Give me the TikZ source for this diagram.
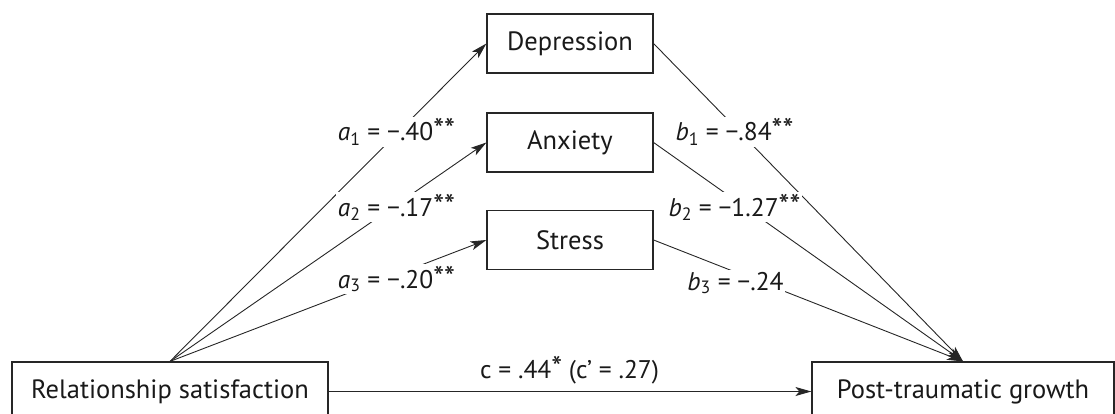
\documentclass[tikz,border=0pt]{standalone}
\usepackage{fontspec}
\setmainfont{PT Sans}
\usetikzlibrary{arrows.meta}
\newcommand{\signif}[1]{{\fontsize{31}{30}\selectfont #1}}

\begin{document}
\begin{tikzpicture}[x=1pt,y=-1pt,
  varbox/.style={draw=black!85,line width=1.2pt,inner sep=0pt,minimum height=59pt,text=black!90,font=\fontsize{26.5}{30}\selectfont},
  link/.style={draw=black!85,line width=0.9pt},
  arr/.style={link,-{Stealth[length=16pt,width=9pt,inset=4pt]}},
  coef/.style={fill=white,inner sep=1.5pt,anchor=base,text=black!90,font=\fontsize{25.5}{30}\selectfont}]
  \useasboundingbox (0,0) rectangle (1115,414);

  %boxes
  \coordinate (RS)  at (170,391.5);
  \coordinate (PTG) at (963,391.5);
  \coordinate (DEP) at (570,43.5);
  \coordinate (ANX) at (570,142.5);
  \coordinate (STR) at (570,240);
  \node[varbox,minimum width=316pt] (rs)  at (RS)  {Relationship satisfaction};
  \node[varbox,minimum width=302pt] (ptg) at (PTG) {Post-traumatic growth};
  \node[varbox,minimum width=166pt] (dep) at (DEP) {Depression};
  \node[varbox,minimum width=166pt] (anx) at (ANX) {Anxiety};
  \node[varbox,minimum width=166pt] (str) at (STR) {Stress};

  %a paths
  \draw[arr] (rs.north) -- (dep.west);
  \draw[arr] (rs.north) -- (anx.west);
  \draw[arr] (rs.north) -- (str.west);

  %b paths
  \draw[arr] (dep.east) -- (ptg.north);
  \draw[arr] (anx.east) -- (ptg.north);
  \draw[arr] (str.east) -- (ptg.north);

  %c path
  \draw[arr] (rs.east) -- (ptg.west);

  %coefficients
  \node[coef] (ca1) at (396.5,141) {\textit{a}\textsubscript{1} = −.40\signif{**}};
  \node[coef] (ca2) at (396.5,216) {\textit{a}\textsubscript{2} = −.17\signif{**}};
  \node[coef] (ca3) at (396.5,288) {\textit{a}\textsubscript{3} = −.20\signif{**}};
  \node[coef] (cb1) at (734.5,141) {\textit{b}\textsubscript{1} = −.84\signif{**}};
  \node[coef] (cb2) at (734.5,216) {\textit{b}\textsubscript{2} = −1.27\signif{**}};
  \node[coef] (cb3) at (735.5,290) {\textit{b}\textsubscript{3} = −.24};
  \node[coef,fill=none] (cc) at (569.5,378) {c = .44\signif{*} (c’ = .27)};
\end{tikzpicture}
\end{document}
